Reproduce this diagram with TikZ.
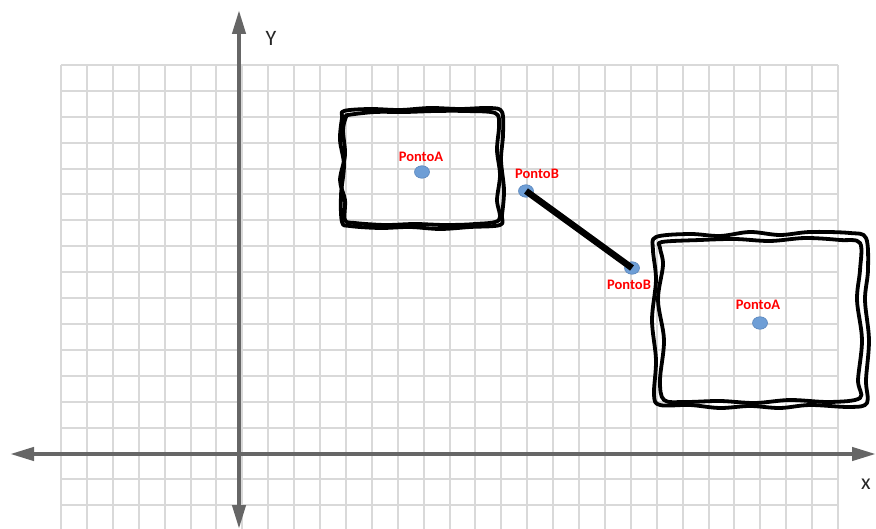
\documentclass[tikz,border=0pt]{standalone}
\usepackage{fontspec}
\setmainfont{Carlito}
\usetikzlibrary{arrows.meta,shapes.geometric}
\definecolor{gridc}{HTML}{D9D9D9}
\definecolor{axisc}{HTML}{666666}
\definecolor{ptfill}{HTML}{6E9ED6}
\definecolor{ptdraw}{HTML}{5A86BC}
\tikzset{
  gridline/.style={draw=gridc, line width=2pt},
  axisline/.style={draw=axisc, line width=4.2pt, {Triangle[length=24pt,width=13pt]}-{Triangle[length=24pt,width=13pt]}},
  axislbl/.style={font=\fontsize{22}{22}\selectfont, text=black!85, inner sep=0pt},
  pt/.style={ellipse, fill=ptfill, draw=ptdraw, line width=0.6pt, minimum width=15pt, minimum height=12.5pt, inner sep=0pt},
  lbl/.style={font=\bfseries\fontsize{14.5}{14.5}\selectfont, text=red, inner sep=0pt},
  sketch/.style={draw=black, line width=3.8pt, line join=round},
  seg/.style={draw=black, line width=6.5pt}
}
\begin{document}
\begin{tikzpicture}[x=1pt,y=-1pt]
\useasboundingbox (0,0) rectangle (876,529);
% grid
\foreach \i in {0,...,30} \draw[gridline] ({61+25.9*\i},65) -- ({61+25.9*\i},529);
\foreach \j in {0,...,17} \draw[gridline] (61,{65+25.9*\j}) -- (838,{65+25.9*\j});
% axes
\coordinate (xl) at (10,454);
\coordinate (xr) at (876,454);
\coordinate (yt) at (239,10);
\coordinate (yb) at (239,529);
\draw[axisline] (xl) -- (xr);
\draw[axisline] (yb) -- (yt);
\node[axislbl] (ylab) at (271,38) {Y};
\node[axislbl] (xlab) at (866,484) {x};
% box 1
\draw[sketch] plot[smooth cycle, tension=0.55] coordinates {(344,111) (370,109) (400,110) (430,108) (460,109) (490,108) (502,112) (503,135) (501,160) (504,190) (502,215) (500,225) (470,227) (440,229) (410,227) (380,228) (350,226) (342,222) (341,195) (344,165) (340,140) (342,118)};
\draw[sketch] plot[smooth cycle, tension=0.55] coordinates {(348,115) (375,112) (405,112) (435,111) (465,111) (495,113) (499,125) (497,150) (500,175) (497,200) (499,220) (475,224) (445,225) (415,224) (385,225) (355,223) (345,220) (345,200) (340,180) (345,155) (343,130) (346,117)};
% box 2
\draw[sketch] plot[smooth cycle, tension=0.55] coordinates {(656,237) (690,234) (720,236) (750,232) (780,235) (810,232) (850,233) (866,238) (868,270) (865,300) (869,340) (866,380) (867,403) (850,407) (810,405) (780,408) (750,406) (720,408) (690,405) (660,405) (654,395) (656,360) (652,320) (656,280) (653,250)};
\draw[sketch] plot[smooth cycle, tension=0.55] coordinates {(662,242) (700,240) (735,239) (770,241) (805,238) (840,240) (860,243) (860,270) (857,300) (862,340) (858,380) (860,398) (830,402) (790,400) (755,403) (720,401) (685,402) (664,400) (660,380) (664,340) (658,300) (663,265) (660,248)};
% points
\node[pt] (A1) at (422,172) {};
\node[pt] (B1) at (526,191) {};
\node[pt] (B2) at (632,268) {};
\node[pt] (A2) at (760,323) {};
\draw[seg] (B1.center) -- (B2.center);
% labels
\node[lbl] (lA1) at (421,157) {PontoA};
\node[lbl] (lB1) at (537,174) {PontoB};
\node[lbl] (lB2) at (629,285) {PontoB};
\node[lbl] (lA2) at (758,305) {PontoA};
\end{tikzpicture}
\end{document}
